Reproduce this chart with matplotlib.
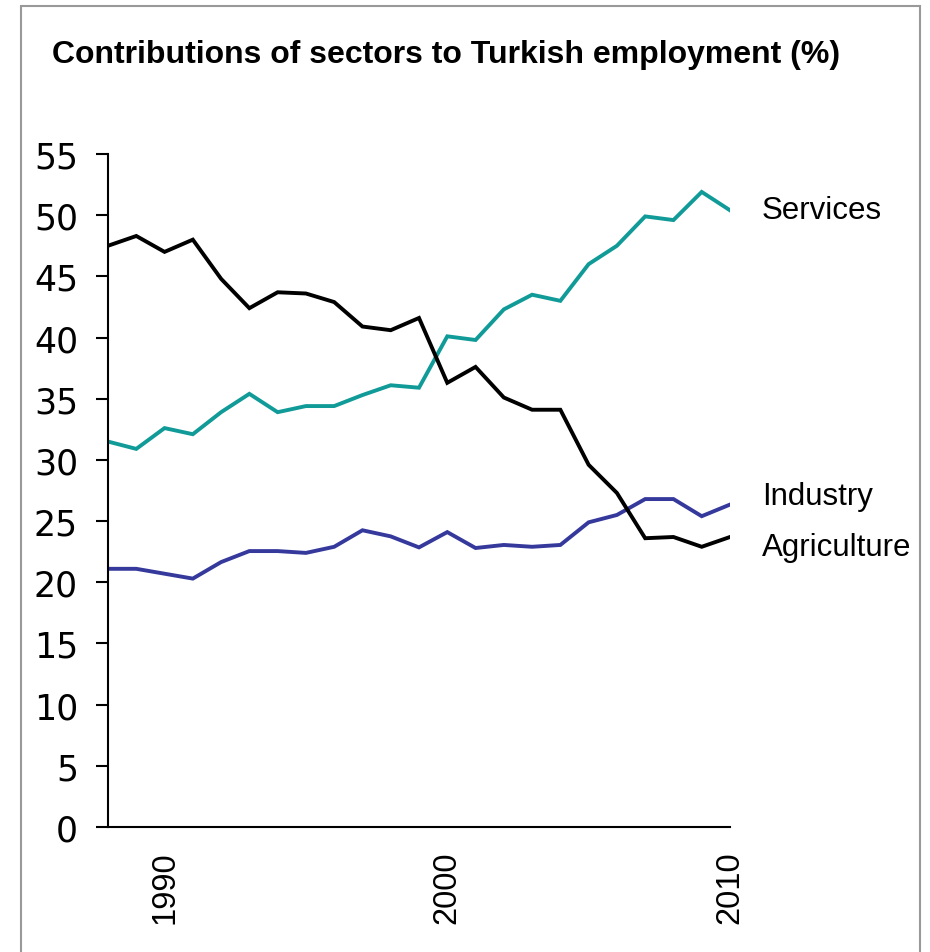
import numpy as np
import matplotlib.pyplot as plt
from matplotlib.patches import Rectangle

years = list(range(1988, 2011))

agriculture = [47.5, 48.3, 47.0, 48.0, 44.8, 42.4, 43.7, 43.6, 42.9, 40.9, 40.6, 41.6,
               36.3, 37.6, 35.1, 34.1, 34.1, 29.6, 27.3, 23.6, 23.7, 22.9, 23.7]
services = [31.5, 30.9, 32.6, 32.1, 33.9, 35.4, 33.9, 34.4, 34.4, 35.3, 36.1, 35.9,
            40.1, 39.8, 42.3, 43.5, 43.0, 46.0, 47.5, 49.9, 49.6, 51.9, 50.4]
industry = [21.1, 21.1, 20.7, 20.3, 21.65, 22.55, 22.55, 22.4, 22.9, 24.25, 23.75, 22.85,
            24.1, 22.8, 23.05, 22.9, 23.05, 24.9, 25.5, 26.8, 26.8, 25.4, 26.35]

series_names = ["Services", "Industry", "Agriculture"]
series_colors = ["#119b98", "#36399c", "black"]
label_offsets = [0, 6, -7]  # points, keeps the end labels apart

y_ticks = list(range(0, 56, 5))
x_ticks = [1990, 2000, 2010]

plt.rcParams['font.family'] = ['Liberation Sans', 'DejaVu Sans']

fig = plt.figure(figsize=(9.3, 9.53), dpi=100)
ax = fig.add_axes([108 / 930, 1 - 828 / 953, 622 / 930, 673 / 953])

# grey frame around the whole chart, open at the bottom
fig.patches.append(Rectangle((21 / 930, -0.05), (920 - 21) / 930, 1.05 - 7 / 953,
                             transform=fig.transFigure, fill=False,
                             edgecolor="#999999", linewidth=1.5))

for name, vals, col, off in zip(series_names, [services, industry, agriculture],
                                series_colors, label_offsets):
    ax.plot(years, vals, color=col, linewidth=2.8, solid_joinstyle="miter")
    ax.annotate(name, xy=(years[-1], vals[-1]), xytext=(23, off),
                textcoords="offset points", va="center", ha="left",
                fontsize=22.5, annotation_clip=False)

ax.set_xlim(1988, 2010)
ax.set_ylim(0, 55)
ax.set_yticks(y_ticks)
ax.set_yticklabels([str(t) for t in y_ticks], family="DejaVu Sans", fontsize=25)
ax.set_xticks(x_ticks)
ax.set_xticklabels([str(t) for t in x_ticks], rotation=90, fontsize=23.5)

ax.tick_params(axis="y", length=8.6, width=1.5, pad=13)
ax.tick_params(axis="x", length=0, pad=17)
for s in ["top", "right"]:
    ax.spines[s].set_visible(False)
for s in ["left", "bottom"]:
    ax.spines[s].set_linewidth(1.5)

fig.text(52 / 930, 1 - 55 / 953, "Contributions of sectors to Turkish employment (%)",
         fontsize=23, fontweight="bold", va="center", ha="left")

fig.savefig("out.png", dpi=100)
